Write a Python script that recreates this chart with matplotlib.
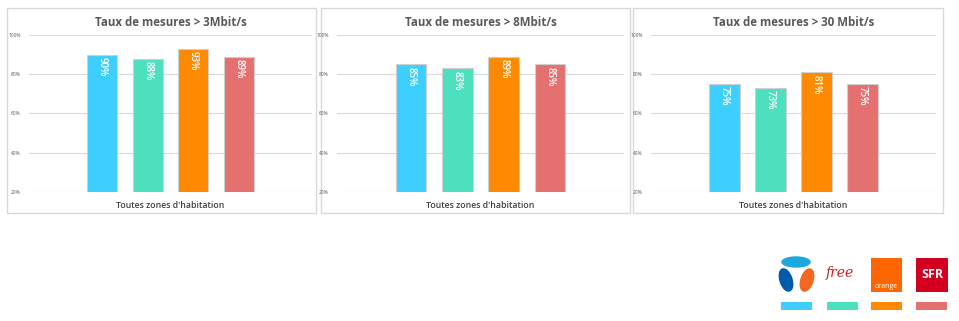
import matplotlib.pyplot as plt
from matplotlib.patches import Rectangle, Ellipse
from matplotlib.ticker import FuncFormatter

# operators and their colours
operators = ["Bouygues", "Free", "Orange", "SFR"]
colors = ["#3DCFFF", "#4DE0BE", "#FF8A00", "#E57070"]

titles = ["Taux de mesures > 3Mbit/s", "Taux de mesures > 8Mbit/s", "Taux de mesures > 30 Mbit/s"]
xlabel = "Toutes zones d'habitation"

rate_3m = [90, 88, 93, 89]
rate_8m = [85, 83, 89, 85]
rate_30m = [75, 73, 81, 75]
all_rates = [rate_3m, rate_8m, rate_30m]

yticks = [20, 40, 60, 80, 100]

W, H = 959, 321
fig = plt.figure(figsize=(W / 100, H / 100), dpi=100)
plt.rcParams['font.family'] = ['Open Sans', 'DejaVu Sans']

def fx(px):
    return px / W

def fy(py):
    return 1 - py / H

# background axes in pixel coordinates, used for frames and logos
bg = fig.add_axes([0, 0, 1, 1], zorder=-1)
bg.set_xlim(0, W)
bg.set_ylim(H, 0)
bg.axis("off")

# panel frames (pixel positions) and plot areas
frames = [(7, 316), (321, 630), (633, 943)]
plot_areas = [(29, 312), (337, 624), (651, 936)]

for i in range(3):
    fl, fr = frames[i]
    bg.add_patch(Rectangle((fl, 8), fr - fl, 205, fill=False,
                           edgecolor="#D9D9D9", lw=1))
    al, ar = plot_areas[i]
    ax = fig.add_axes([fx(al), fy(192), fx(ar - al), (192 - 35) / H])
    xs = list(range(len(operators)))
    ax.bar(xs, all_rates[i], width=0.66, color=colors,
           edgecolor="#CFCFCF", lw=0.8, zorder=3)
    for x, v in zip(xs, all_rates[i]):
        ax.text(x, v - 1.2, f"{v}%", rotation=270, color="white",
                ha="center", va="top", fontsize=7, fontweight="semibold", zorder=4)
    ax.set_ylim(20, 100)
    ax.set_xlim(-1.6, 4.6)
    ax.set_yticks(yticks)
    ax.yaxis.set_major_formatter(FuncFormatter(lambda v, p: f"{int(v)}%"))
    ax.tick_params(axis="y", length=0, labelsize=3.5, labelcolor="#595959", pad=6)
    ax.set_xticks([])
    ax.grid(axis="y", color="#D9D9D9", lw=0.8, zorder=0)
    for s in ax.spines.values():
        s.set_visible(False)
    cx = (al + ar) / 2
    bg.text(cx, 22, titles[i], ha="center", va="center",
            fontsize=8.3, fontweight="bold", color="#595959")
    bg.text(cx, 206, xlabel, ha="center", va="center",
            fontsize=6.3, fontweight="semibold", color="#404040")

# legend: logos and colour swatches
swatch_x = [781, 827, 871, 916]
for x, c in zip(swatch_x, colors):
    bg.add_patch(Rectangle((x, 302), 31, 8, color=c, lw=0))

# Bouygues logo
bg.add_patch(Ellipse((796, 262), 28, 10, color="#1DA7DF"))
bg.add_patch(Ellipse((786, 280), 12, 23, angle=-18, color="#005BAA"))
bg.add_patch(Ellipse((807, 280), 12, 23, angle=18, color="#F26722"))
# Free logo
bg.text(840, 273, "free", ha="center", va="center", fontsize=10,
        fontstyle="italic", family="DejaVu Serif", color="#CD1E25")
# Orange logo
bg.add_patch(Rectangle((871, 258), 31, 34, color="#FF6600", lw=0))
bg.text(886, 287, "orange", ha="center", va="center", fontsize=5,
        color="white")
# SFR logo
bg.add_patch(Rectangle((916, 258), 32, 34, color="#D2001E", lw=0))
bg.text(932, 274, "SFR", ha="center", va="center", fontsize=9,
        fontweight="bold", color="white")

fig.savefig("out.png", dpi=100)
